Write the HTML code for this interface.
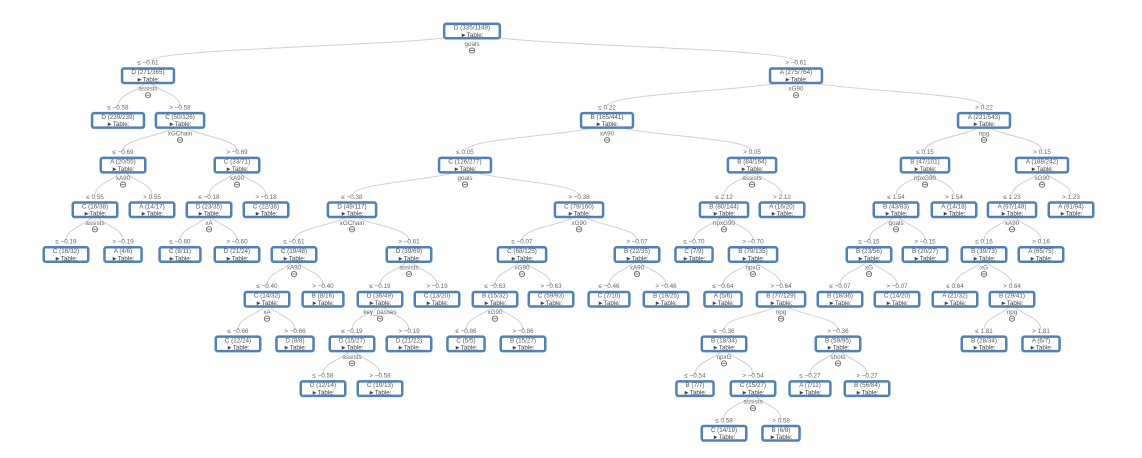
<!DOCTYPE html>
<html><head><meta charset="utf-8">
<style>
html,body{margin:0;padding:0;background:#fff;}
svg{display:block;font-family:"Liberation Sans","DejaVu Sans",sans-serif;}
</style></head>
<body>
<svg id="s" width="1142" height="458" xmlns="http://www.w3.org/2000/svg"></svg>
<script>
const T=["D (335/1149)",472,"goals","-0.61",[
 ["D (271/365)",148,"assists","-0.58",[
   ["D (239/239)",118],
   ["C (50/126)",180,"xGChain","-0.69",[
     ["A (20/55)",123,"xA90","0.55",[
       ["C (16/38)",95,"assists","-0.19",[["C (16/32)",66],["A (4/6)",123]]],
       ["A (14/17)",152]]],
     ["C (33/71)",237,"xA90","-0.18",[
       ["D (23/35)",209,"xA","-0.60",[["C (8/11)",180],["D (21/24)",237]]],
       ["C (22/36)",266]]]]]]],
 ["A (275/764)",796,"xG90","0.22",[
   ["B (165/441)",607,"xA90","0.05",[
     ["C (126/277)",465,"goals","-0.38",[
       ["D (49/117)",352,"xGChain","-0.61",[
         ["C (19/48)",294,"xA90","-0.40",[
           ["C (14/32)",267,"xA","-0.66",[["C (12/24)",238],["D (8/8)",295]]],
           ["B (8/16)",323]]],
         ["D (39/69)",409,"assists","-0.19",[
           ["D (36/49)",380,"key_passes","-0.19",[
             ["D (15/27)",352,"assists","-0.58",[["D (12/14)",323],["C (10/13)",380]]],
             ["D (21/22)",409]]],
           ["C (13/20)",437]]]]],
       ["C (79/160)",579,"xG90","-0.07",[
         ["C (68/125)",522,"xG90","-0.63",[
           ["B (15/32)",495,"xG90","-0.86",[["C (5/5)",466],["B (15/27)",523]]],
           ["C (59/93)",551]]],
         ["B (22/35)",637,"xA90","-0.46",[["C (7/10)",609],["B (19/25)",666]]]]]]],
     ["B (84/164)",752,"assists","2.12",[
       ["B (80/144)",724,"npxG90","-0.70",[
         ["C (7/9)",694],
         ["B (79/135)",753,"npxG","-0.64",[
           ["A (5/6)",723],
           ["B (77/129)",781,"npg","-0.36",[
             ["B (18/34)",724,"npxG","-0.54",[
               ["B (7/7)",695],
               ["C (15/27)",753,"assists","0.58",[["C (14/19)",724],["B (6/8)",781]]]]],
             ["B (59/95)",838,"shots","-0.27",[["A (7/11)",810],["B (56/84)",867]]]]]]]]],
       ["A (16/20)",782]]]]],
   ["A (221/543)",984,"npg","0.15",[
     ["B (47/101)",925,"npxG90","1.54",[
       ["B (43/83)",896,"goals","-0.15",[
         ["B (23/56)",869,"xG","-0.07",[["B (18/36)",840],["C (14/20)",897]]],
         ["B (20/27)",925]]],
       ["A (14/18)",954]]],
     ["A (188/242)",1042,"xG90","1.23",[
       ["A (97/148)",1012,"xA90","0.16",[
         ["B (39/73)",984,"xG","0.64",[
           ["A (21/32)",955],
           ["B (29/41)",1012,"npg","1.81",[["B (28/34)",984],["A (6/7)",1041]]]]],
         ["A (65/75)",1041]]],
       ["A (91/94)",1071]]]]]]]]];
const NS="http://www.w3.org/2000/svg";
const s=document.getElementById("s");
const gE=document.createElementNS(NS,"g"),gN=document.createElementNS(NS,"g");
s.appendChild(gE);s.appendChild(gN);
function el(p,t,a,txt){const e=document.createElementNS(NS,t);for(const k in a)e.setAttribute(k,a[k]);if(txt!==undefined)e.textContent=txt;p.appendChild(e);return e;}
const Y=d=>31+44.7*d;
function draw(n,d,edge){
  const [name,x,feat,thr,kids]=n;const y=Y(d);
  if(edge) el(gN,"text",{x:x,y:y-11,"font-size":"6.3","fill":"#666","text-anchor":"middle"},edge);
  const w=47+3.7*(name.length-9);
  el(gN,"rect",{x:x-w/2+1.25,y:y-8.5+1.25,width:w-2.5,height:17-2.5,rx:2,fill:"#fff",stroke:"#4f80b7","stroke-width":"2.5"});
  el(gN,"text",{x:x,y:y-1.5,"font-size":"6.3","fill":"#555","text-anchor":"middle"},name);
  el(gN,"text",{x:x,y:y+5.8,"font-size":"6.3","fill":"#444","text-anchor":"middle"},"\u25BATable:");
  if(kids){
    el(gN,"text",{x:x,y:y+15,"font-size":"6.3","fill":"#666","text-anchor":"middle"},feat);
    el(gN,"circle",{cx:x,cy:y+19.5,r:2.6,fill:"#fff",stroke:"#666","stroke-width":"0.9"});
    el(gN,"line",{x1:x-1.6,y1:y+19.5,x2:x+1.6,y2:y+19.5,stroke:"#666","stroke-width":"0.9"});
    kids.forEach((k,i)=>{
      const cx=k[1],cy=Y(d+1)-14,py=y;const my=(py+cy)/2;
      el(gE,"path",{d:`M${x},${py} C${x},${my} ${cx},${my} ${cx},${cy}`,fill:"none",stroke:"#d0d0d0","stroke-width":"1"});
      draw(k,d+1,(i==0?"\u2264 ":"> ")+thr.replace("-","\u2212"));
    });
  }
}
draw(T,0,null);
</script>
</body></html>
